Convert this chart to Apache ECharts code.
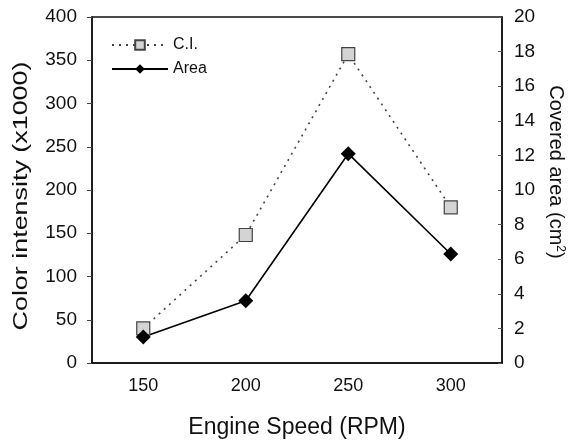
<!DOCTYPE html>
<html><head><meta charset="utf-8">
<script src="https://cdn.jsdelivr.net/npm/echarts@6/dist/echarts.min.js"></script>
<style>html,body{margin:0;padding:0;background:#fff}#c{width:571px;height:444px}</style>
</head><body><div id="c"></div>
<script>
const categories = ['150', '200', '250', '300'];
const ciValues = [40, 148, 357, 180];
const areaValues = [1.5, 3.6, 12.1, 6.3];
const leftTicks = [0, 400, 50];
const rightTicks = [0, 20, 2];
const xTitle = 'Engine Speed (RPM)';
const leftTitle = 'Color intensity (x1000)';
const rightTitle = 'Covered area (cm{s|2})';

const FONT = 'Liberation Sans, Arial, sans-serif';
const chart = echarts.init(document.getElementById('c'));
chart.setOption({
  animation: false,
  backgroundColor: '#fff',
  grid: { left: 92, right: 69, top: 17, bottom: 81, show: true, borderColor: '#111', borderWidth: 1.5, backgroundColor: 'transparent' },
  legend: {
    left: 106, top: 32, orient: 'vertical', itemGap: 8, itemWidth: 56, itemHeight: 12,
    textStyle: { fontFamily: FONT, fontSize: 16, color: '#111' },
    data: ['C.I.', 'Area']
  },
  graphic: [{
    type: 'text', x: 21, y: 196, rotation: Math.PI / 2, scaleX: 1.28,
    style: { text: leftTitle, fontFamily: FONT, fontSize: 21, fill: '#111', align: 'center', verticalAlign: 'middle' }
  }, {
    type: 'text', x: 556, y: 172, rotation: -Math.PI / 2,
    style: { text: rightTitle, fontFamily: FONT, fontSize: 20, fill: '#111', align: 'center', verticalAlign: 'middle',
      rich: { s: { fontFamily: FONT, fontSize: 12, fill: '#111', verticalAlign: 'top', lineHeight: 14 } } }
  }],
  xAxis: {
    type: 'category', data: categories, boundaryGap: true,
    name: xTitle, nameLocation: 'middle', nameGap: 53,
    nameTextStyle: { fontFamily: FONT, fontSize: 23, color: '#111' },
    axisLine: { lineStyle: { color: '#111', width: 1.5 } },
    axisTick: { inside: true, length: 4, lineStyle: { color: '#555' } },
    axisLabel: { fontFamily: FONT, fontSize: 18, color: '#111', margin: 14 },
    splitLine: { show: false }
  },
  yAxis: [{
    type: 'value', min: leftTicks[0], max: leftTicks[1], interval: leftTicks[2],
    axisLine: { show: true, lineStyle: { color: '#111', width: 1.5 } },
    axisTick: { show: true, length: 5, lineStyle: { color: '#444' } },
    axisLabel: { fontFamily: FONT, fontSize: 19, color: '#111', margin: 15 },
    splitLine: { show: false }
  }, {
    type: 'value', min: rightTicks[0], max: rightTicks[1], interval: rightTicks[2],
    position: 'right',
    axisLine: { show: true, lineStyle: { color: '#111', width: 1.5 } },
    axisTick: { show: true, inside: true, length: 4, lineStyle: { color: '#555' } },
    axisLabel: { fontFamily: FONT, fontSize: 19, color: '#111', margin: 12 },
    splitLine: { show: false }
  }],
  series: [{
    name: 'C.I.', type: 'line', data: ciValues, yAxisIndex: 0,
    symbol: 'rect', symbolSize: 13,
    itemStyle: { color: '#d4d4d4', borderColor: '#444', borderWidth: 1.2 },
    lineStyle: { color: '#444', width: 1.6, type: [2, 5] }
  }, {
    name: 'Area', type: 'line', data: areaValues, yAxisIndex: 1,
    symbol: 'diamond', symbolSize: 15,
    itemStyle: { color: '#000' },
    lineStyle: { color: '#000', width: 1.6 }
  }]
});
</script></body></html>
